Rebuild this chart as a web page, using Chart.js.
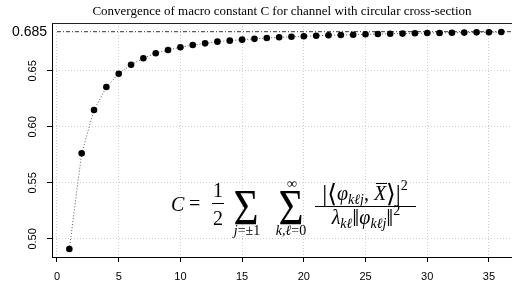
<!DOCTYPE html>
<html>
<head>
<meta charset="utf-8">
<script src="https://cdn.jsdelivr.net/npm/chart.js@4.4.1/dist/chart.umd.min.js"></script>
<style>
  html, body { margin: 0; padding: 0; background: #fff; }
  #wrap { width: 512px; height: 282px; }
</style>
</head>
<body>
<div id="wrap"><canvas id="conv" width="512" height="282"></canvas></div>
<script>
// number of terms summed
var nTerms = [1, 2, 3, 4, 5, 6, 7, 8, 9, 10, 11, 12, 13, 14, 15, 16, 17, 18,
  19, 20, 21, 22, 23, 24, 25, 26, 27, 28, 29, 30, 31, 32, 33, 34, 35, 36];
// partial sums of C
var cValues = [0.4910, 0.5764, 0.6151, 0.6356, 0.6475, 0.6555, 0.6613, 0.6657, 0.6687,
  0.6711, 0.6731, 0.6746, 0.6761, 0.6770, 0.6779, 0.6786, 0.6794, 0.6800, 0.6805,
  0.6809, 0.6814, 0.6818, 0.6821, 0.6823, 0.6827, 0.6829, 0.6832, 0.6833, 0.6836,
  0.6838, 0.6839, 0.6841, 0.6842, 0.6844, 0.6845, 0.6847];
var limitValue = 0.685;
var limitLabel = "0.685";
var xTicks = [0, 5, 10, 15, 20, 25, 30, 35];
var yTicks = [0.50, 0.55, 0.60, 0.65];
var titleText = "Convergence of macro constant C for channel with circular cross-section";

var serif = '"Liberation Serif", "DejaVu Serif", serif';
var sans = '"Liberation Sans", Arial, sans-serif';

var points = [];
for (var i = 0; i < nTerms.length; i++) {
  points.push({ x: nTerms[i], y: cValues[i] });
}

function textRun(ctx, parts, cx, baseline) {
  // measure, then draw parts centred on cx
  var total = 0;
  parts.forEach(function (p) {
    ctx.font = p.f;
    p.w = ctx.measureText(p.t).width;
    total += p.w + (p.gap || 0);
  });
  var x = cx - total / 2;
  ctx.textAlign = "left";
  parts.forEach(function (p) {
    ctx.font = p.f;
    ctx.fillText(p.t, x, baseline + (p.dy || 0));
    if (p.bar) {
      ctx.fillRect(x + 2, baseline - 17, p.w - 1, 1);
    }
    x += p.w + (p.gap || 0);
  });
}

var extras = {
  id: "extras",
  afterDraw: function (chart) {
    var ctx = chart.ctx;
    var area = chart.chartArea;
    var ys = chart.scales.y;
    ctx.save();
    ctx.fillStyle = "#000";

    // top frame line
    ctx.strokeStyle = "#222";
    ctx.lineWidth = 1;
    ctx.beginPath();
    ctx.moveTo(area.left, Math.round(area.top) + 0.5);
    ctx.lineTo(area.right, Math.round(area.top) + 0.5);
    ctx.stroke();

    // title
    ctx.font = "13px " + serif;
    ctx.textAlign = "center";
    ctx.textBaseline = "middle";
    ctx.fillText(titleText, (area.left + area.right) / 2, 12);

    // y tick labels, rotated like base R
    ctx.font = "11px " + sans;
    yTicks.forEach(function (v) {
      ctx.save();
      ctx.translate(33, ys.getPixelForValue(v));
      ctx.rotate(-Math.PI / 2);
      ctx.textAlign = "center";
      ctx.textBaseline = "middle";
      ctx.fillText(v.toFixed(2), 0, 0);
      ctx.restore();
    });
    ctx.font = "14px " + sans;
    ctx.textAlign = "right";
    ctx.textBaseline = "middle";
    ctx.fillText(limitLabel, 47, ys.getPixelForValue(limitValue));

    // the formula
    ctx.textBaseline = "alphabetic";
    var big = "20px " + serif, bigI = "italic 20px " + serif;
    var delim = "25px " + serif;
    var sm = "italic 14px " + serif, smU = "14px " + serif;
    ctx.textAlign = "left";
    ctx.font = bigI;
    ctx.fillText("C", 171, 211);
    ctx.font = big;
    ctx.fillText("=", 189, 210);
    ctx.textAlign = "center";
    ctx.fillText("1", 218, 197);
    ctx.fillRect(212, 203, 12, 1);
    ctx.fillText("2", 218, 225);

    [246, 291].forEach(function (cx) {
      ctx.save();
      ctx.translate(cx, 224);
      ctx.scale(0.86, 1);
      ctx.font = "50px " + serif;
      ctx.textAlign = "center";
      ctx.fillText("\u03A3", 0, 0);
      ctx.restore();
    });
    textRun(ctx, [{ t: "j", f: sm }, { t: "=\u00B11", f: smU }], 247, 235);
    textRun(ctx, [{ t: "\u221E", f: smU }], 292, 188);
    textRun(ctx, [{ t: "k,\u2113", f: sm }, { t: "=0", f: smU }], 291, 235);

    textRun(ctx, [
      { t: "|\u27E8", f: delim, dy: 2 },
      { t: "\u03C6", f: bigI },
      { t: "k\u2113j", f: sm, dy: 4 },
      { t: ", ", f: big },
      { t: "X", f: bigI, bar: true },
      { t: "\u27E9|", f: delim, dy: 2 },
      { t: "2", f: smU, dy: -10 }
    ], 365, 200);
    ctx.fillRect(315, 206, 101, 1);
    textRun(ctx, [
      { t: "\u03BB", f: bigI },
      { t: "k\u2113", f: sm, dy: 4 },
      { t: "\u2016", f: delim, dy: 2 },
      { t: "\u03C6", f: bigI },
      { t: "k\u2113j", f: sm, dy: 4 },
      { t: "\u2016", f: delim, dy: 2 },
      { t: "2", f: smU, dy: -9 }
    ], 366, 224);

    ctx.restore();
  }
};

var gridStyle = {
  color: "#cfcfcf",
  lineWidth: 1,
  tickColor: "#000",
  tickLength: 5,
  tickWidth: 1
};

var ctx = document.getElementById("conv");
var myChart = new Chart(ctx, {
  type: "scatter",
  data: {
    datasets: [
      {
        data: points,
        showLine: true,
        borderColor: "#555",
        borderWidth: 1,
        borderDash: [1, 2],
        pointRadius: 3.3,
        pointBackgroundColor: "#000",
        pointBorderWidth: 0,
        order: 1
      },
      {
        data: [{ x: xTicks[0], y: limitValue }, { x: 40, y: limitValue }],
        showLine: true,
        borderColor: "#333",
        borderWidth: 1,
        borderDash: [4, 2, 1, 2],
        pointRadius: 0,
        order: 2
      }
    ]
  },
  options: {
    responsive: false,
    animation: false,
    layout: { autoPadding: false, padding: { top: 23, left: 0, right: 0, bottom: 0 } },
    plugins: {
      legend: { display: false },
      tooltip: { enabled: false },
      title: { display: false }
    },
    scales: {
      x: {
        type: "linear",
        min: -0.405,
        max: 36.87,
        afterBuildTicks: function (s) {
          s.ticks = xTicks.map(function (v) { return { value: v }; });
        },
        afterFit: function (s) {
          s.height = 25;
          s.paddingLeft = 0;
          s.paddingRight = 0;
        },
        grid: gridStyle,
        border: { color: "#000", width: 1, dash: [1, 2] },
        ticks: {
          color: "#000",
          font: { family: sans, size: 11 },
          padding: 8,
          maxRotation: 0
        }
      },
      y: {
        min: 0.48384,
        max: 0.69277,
        afterBuildTicks: function (s) {
          s.ticks = yTicks.map(function (v) { return { value: v }; });
        },
        afterFit: function (s) {
          s.width = 52;
          s.paddingTop = 0;
          s.paddingBottom = 0;
        },
        grid: gridStyle,
        border: { color: "#000", width: 1, dash: [1, 2] },
        ticks: { display: false }
      }
    }
  },
  plugins: [extras]
});
</script>
</body>
</html>
